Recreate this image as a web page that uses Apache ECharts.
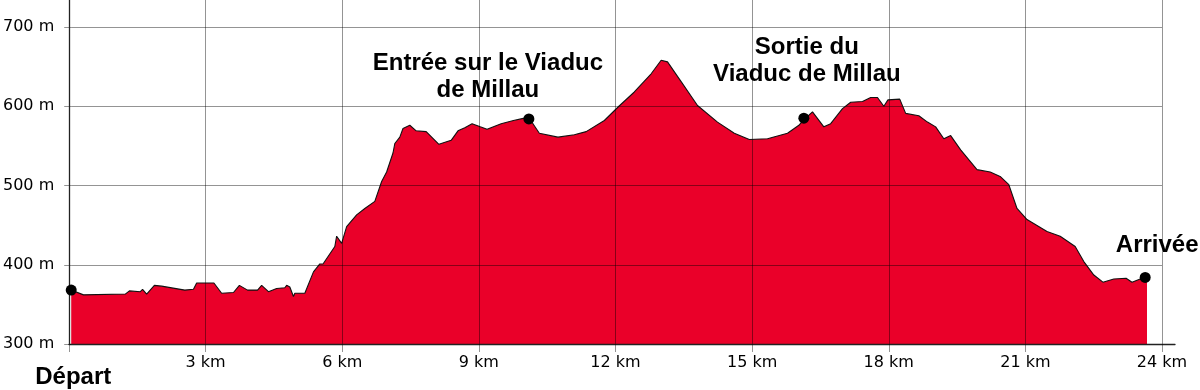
<!DOCTYPE html>
<html><head><meta charset="utf-8">
<script src="https://cdn.jsdelivr.net/npm/echarts@6/dist/echarts.min.js"></script>
<style>html,body{margin:0;padding:0;background:#fff}#c{width:1200px;height:390px}</style>
</head><body><div id="c"></div>
<script>
// Profile data (km, m)
const distanceKm = [0.00,0.27,1.19,1.28,1.52,1.57,1.66,1.83,1.99,2.50,
2.69,2.76,3.14,3.31,3.57,3.70,3.88,4.10,4.19,4.34,
4.52,4.70,4.74,4.81,4.89,4.92,5.14,5.33,5.47,5.54,
5.80,5.84,5.95,6.06,6.28,6.46,6.68,6.83,6.94,7.08,
7.12,7.23,7.30,7.45,7.59,7.81,8.09,8.36,8.51,8.66,
8.82,9.00,9.15,9.46,9.73,9.97,10.07,10.16,10.30,10.71,
11.07,11.33,11.73,12.05,12.39,12.76,12.98,13.12,13.42,13.78,
14.22,14.59,14.92,15.32,15.76,16.01,16.12,16.31,16.56,16.71,
16.97,17.15,17.41,17.59,17.74,17.88,17.97,18.23,18.36,18.65,
18.84,19.02,19.20,19.35,19.57,19.93,20.22,20.45,20.63,20.81,
21.03,21.47,21.76,22.09,22.28,22.50,22.70,22.94,23.21,23.34,
23.52,23.67];
const elevationM = [368,362,363,367,366,369,363,374,373,368,
369,377,377,364,365,374,368,368,374,366,
370,371,374,372,360,364,364,391,401,401,
423,436,427,448,463,471,480,505,517,541,
553,561,572,576,569,568,552,557,569,573,
578,574,571,578,582,585,584,578,566,561,
564,568,582,600,618,641,658,656,631,601,
580,566,558,559,566,576,583,593,574,578,
597,605,606,611,611,600,608,609,591,588,
580,574,559,563,545,520,517,511,501,471,
457,442,436,423,404,387,378,382,383,378,
382,384];

// Markers
const markerNames = ['Départ', 'Entrée sur le Viaduc\nde Millau', 'Sortie du\nViaduc de Millau', 'Arrivée'];
const markerKm = [0, 10.07, 16.12, 23.63];
const markerElev = [368, 584, 585, 384];

// Axis settings
const xMin = 0, xMax = 24, xStep = 3, xUnit = ' km';
const yMin = 300, yMax = 700, yStep = 100, yUnit = ' m';

// Label placement (styling)
const labelOffsets = [[2, 87], [-41, -42], [3, -57], [12, -32]];

const chart = echarts.init(document.getElementById('c'), null, {renderer: 'canvas'});
const L = 69, R = 38, B = 46;
const gridColor = 'rgba(0,0,0,0.42)';
const axisColor = '#222';
const labelFont = {fontFamily: 'DejaVu Sans', fontSize: 16, color: '#000'};

chart.setOption({
  animation: false,
  grid: [
    {left: L, right: R, top: 27, bottom: B},
    {left: L, right: R, top: 0, bottom: B},
    {left: L, right: 25, top: 0, bottom: B}
  ],
  xAxis: [
    {gridIndex: 0, type: 'value', min: xMin, max: xMax, show: false},
    {gridIndex: 1, type: 'value', min: xMin, max: xMax, interval: xStep, z: 10,
      axisLine: {show: false},
      axisTick: {show: true, length: 8, lineStyle: {color: gridColor}},
      axisLabel: Object.assign({margin: 11, formatter: v => v === 0 ? '' : v + xUnit}, labelFont),
      splitLine: {show: true, lineStyle: {color: gridColor, width: 1}}},
    {gridIndex: 2, type: 'value', min: 0, max: 1, z: 10,
      axisLine: {show: true, lineStyle: {color: axisColor, width: 1.3}},
      axisTick: {show: false}, axisLabel: {show: false}, splitLine: {show: false}}
  ],
  yAxis: [
    {gridIndex: 0, type: 'value', min: yMin, max: yMax, interval: yStep, z: 10,
      axisLine: {show: false},
      axisTick: {show: true, length: 7, lineStyle: {color: gridColor}},
      axisLabel: Object.assign({margin: 17, formatter: v => v + yUnit}, labelFont),
      splitLine: {show: true, lineStyle: {color: gridColor, width: 1}}},
    {gridIndex: 1, type: 'value', min: 0, max: 1, z: 11,
      axisLine: {show: true, lineStyle: {color: axisColor, width: 1.3}},
      axisTick: {show: false}, axisLabel: {show: false}, splitLine: {show: false}},
    {gridIndex: 2, type: 'value', min: 0, max: 1, show: false}
  ],
  series: [
    {
      type: 'line', xAxisIndex: 0, yAxisIndex: 0, z: 2,
      data: distanceKm.map((d, i) => [d, elevationM[i]]),
      symbol: 'none', smooth: false,
      lineStyle: {color: '#111', width: 1.1},
      areaStyle: {color: '#EA0029', opacity: 1, origin: 'start'}
    },
    {
      type: 'scatter', xAxisIndex: 0, yAxisIndex: 0, z: 20,
      symbolSize: 11,
      itemStyle: {color: '#000', opacity: 1},
      label: {
        show: true, position: 'inside', formatter: p => p.name,
        fontFamily: 'Liberation Sans', fontWeight: 'bold', fontSize: 24, lineHeight: 27,
        color: '#000', opacity: 1, align: 'center'
      },
      data: markerKm.map((k, i) => ({
        name: markerNames[i], value: [k, markerElev[i]],
        label: {offset: labelOffsets[i]}
      }))
    }
  ]
});
</script>
</body></html>
